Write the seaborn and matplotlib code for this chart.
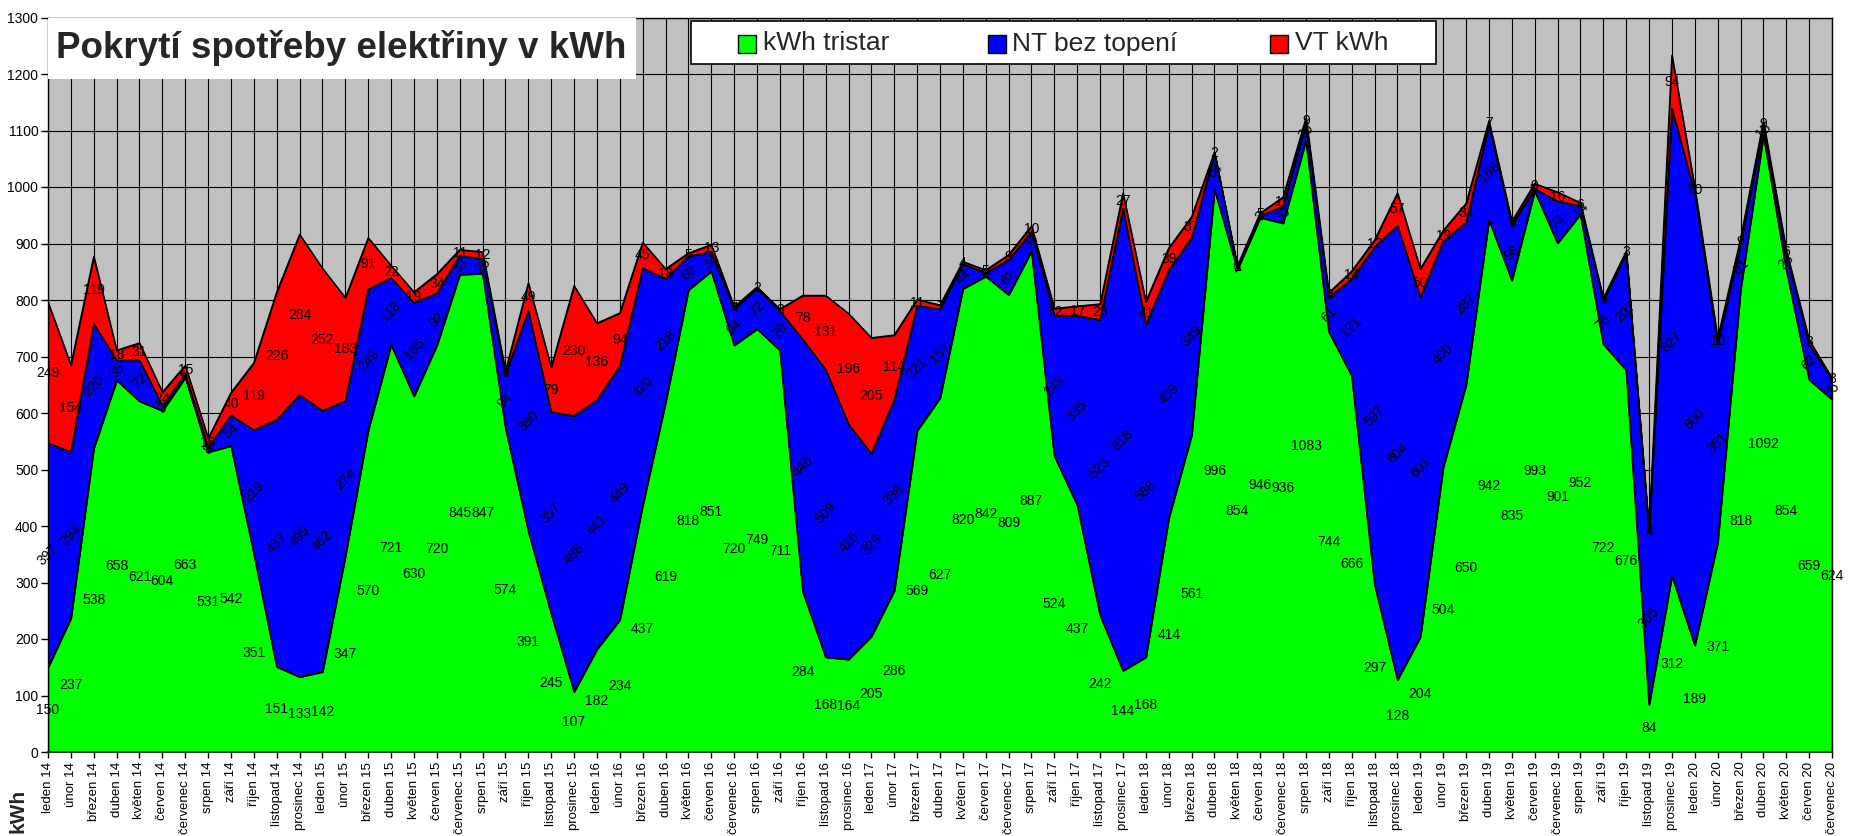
import matplotlib
matplotlib.use("Agg")
import matplotlib.pyplot as plt
import seaborn as sns
import numpy as np
import pandas as pd
from matplotlib.patches import Rectangle

# ---------------- data ----------------
month_names = ["leden", "únor", "březen", "duben", "květen", "červen",
               "červenec", "srpen", "září", "říjen", "listopad", "prosinec"]
years = [14, 15, 16, 17, 18, 19, 20]
tick_labels = [f"{m} {y}" for y in years for m in month_names][:79]

tristar = [150, 237, 538, 658, 621, 604, 663, 531, 542, 351, 151, 133,
           142, 347, 570, 721, 630, 720, 845, 847, 574, 391, 245, 107,
           182, 234, 437, 619, 818, 851, 720, 749, 711, 284, 168, 164,
           205, 286, 569, 627, 820, 842, 809, 887, 524, 437, 242, 144,
           168, 414, 561, 996, 854, 946, 936, 1083, 744, 666, 297, 128,
           204, 504, 650, 942, 835, 993, 901, 952, 722, 676, 84, 312,
           189, 371, 818, 1092, 854, 659, 624]

nt_bez_topeni = [397, 294, 220, 35, 72, 9, 6, 8, 54, 219, 437, 499,
                 462, 274, 249, 118, 165, 92, 33, 26, 94, 390, 357, 488,
                 441, 449, 420, 218, 60, 34, 64, 72, 70, 446, 509, 416,
                 323, 338, 221, 157, 44, 6, 62, 34, 249, 335, 523, 818,
                 588, 439, 349, 64, 4, 3, 30, 30, 61, 171, 597, 804,
                 601, 400, 287, 168, 98, 4, 74, 14, 76, 207, 305, 827,
                 800, 351, 81, 15, 28, 62, 35]

vt_kwh = [249, 154, 119, 18, 31, 24, 15, 16, 40, 119, 226, 284,
          252, 183, 91, 22, 19, 34, 11, 12, 6, 49, 79, 230,
          136, 94, 45, 18, 5, 13, 4, 2, 3, 78, 131, 196,
          205, 114, 11, 7, 4, 5, 9, 10, 12, 17, 28, 27,
          41, 39, 37, 2, 2, 5, 16, 9, 8, 14, 12, 57,
          50, 19, 34, 7, 6, 9, 16, 6, 5, 3, 4, 94,
          10, 10, 9, 9, 6, 8, 3]

series_names = ["kWh tristar", "NT bez topení", "VT kWh"]
series_colors = ["#00FF00", "#0000FF", "#FF0000"]
title_text = "Pokrytí spotřeby elektřiny v kWh"
y_label = "kWh"

# ---------------- style ----------------
sns.set_style("white")
plt.rcParams['font.family'] = ['Liberation Sans', 'DejaVu Sans']

W, H = 1851, 836
fig = plt.figure(figsize=(W / 100, H / 100), dpi=100)
fig.patch.set_facecolor("white")

def fx(px):
    return px / W

def fy(py):
    return 1 - py / H

ax_left, ax_right, ax_top, ax_bottom = 48, 1832, 17.5, 752
ax = fig.add_axes([fx(ax_left), fy(ax_bottom), fx(ax_right - ax_left), (ax_bottom - ax_top) / H])
ax.set_facecolor("#C0C0C0")

x = np.arange(len(tick_labels))
g = np.array(tristar)
b = np.array(nt_bez_topeni)
r = np.array(vt_kwh)
layers = [(np.zeros_like(g), g), (g, g + b), (g + b, g + b + r)]

for (bot, top), col in zip(layers, series_colors):
    ax.fill_between(x, bot, top, facecolor=col, edgecolor="black", linewidth=1.0, zorder=2)

# boundary lines through seaborn
rows = []
for name, (bot, top) in zip(series_names, layers):
    for i in x:
        rows.append({"x": i, "top": top[i], "layer": name})
df = pd.DataFrame(rows)
sns.lineplot(data=df, x="x", y="top", units="layer", estimator=None,
             color="black", linewidth=1.0, ax=ax, legend=False, zorder=3)

# data labels
lab_fs = 10
for i in x:
    ax.text(i, g[i] / 2, str(g[i]), ha="center", va="center", fontsize=lab_fs, color="black", zorder=4, clip_on=False)
    ax.text(i, g[i] + b[i] / 2, str(b[i]), ha="center", va="center", rotation=45,
            rotation_mode="anchor", fontsize=lab_fs, color="black", zorder=4, clip_on=False)
    ax.text(i, g[i] + b[i] + r[i] / 2, str(r[i]), ha="center", va="center", fontsize=lab_fs,
            color="black", zorder=4, clip_on=False)

ax.set_xlim(0, len(x) - 1)
ax.set_ylim(0, 1300)
ax.set_yticks(range(0, 1301, 100))
ax.set_xticks(x)
ax.set_xticklabels(tick_labels, rotation=90, fontsize=9.5)
ax.tick_params(axis="y", labelsize=10, length=5, width=1, direction="out", left=True, pad=2, colors="black")
ax.tick_params(axis="x", length=4, width=1, direction="out", bottom=True, pad=3, colors="black")
ax.set_xlabel("")
ax.set_ylabel("")
ax.grid(True, color="black", linewidth=0.8)
ax.set_axisbelow(True)
for s in ax.spines.values():
    s.set_color("black")
    s.set_linewidth(1.0)
ax.spines["bottom"].set_color("#333333")
ax.spines["bottom"].set_linewidth(1.5)

# title box
fig.patches.append(Rectangle((fx(48), fy(79)), fx(636 - 48), (79 - 17.5) / H,
                             transform=fig.transFigure, facecolor="white", edgecolor="none", zorder=5))
fig.text(fx(56), fy(48), title_text, fontsize=26.5, fontweight="bold", ha="left", va="center", zorder=6)

# legend box
fig.patches.append(Rectangle((fx(691), fy(64)), fx(1436 - 691), (64 - 21) / H,
                             transform=fig.transFigure, facecolor="white", edgecolor="black",
                             linewidth=1.2, zorder=5))
sq_x = [738, 988, 1270]
tx_x = [763, 1012, 1295]
for sx, tx, col, name in zip(sq_x, tx_x, series_colors, series_names):
    fig.patches.append(Rectangle((fx(sx), fy(52.5)), fx(18), 18 / H, transform=fig.transFigure,
                                 facecolor=col, edgecolor="black", linewidth=1.0, zorder=6))
    fig.text(fx(tx), fy(43.5), name, fontsize=19, ha="left", va="center", zorder=6)

# y-axis label at the bottom-left corner
fig.text(fx(18), fy(833), y_label, rotation=90, fontsize=15, fontweight="bold", ha="center", va="bottom")

fig.savefig("out.png", dpi=100)
